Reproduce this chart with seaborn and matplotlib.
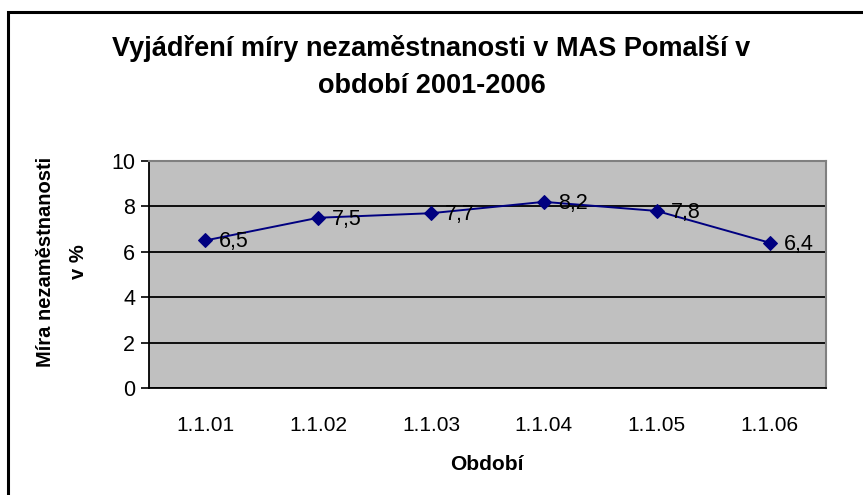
import matplotlib
matplotlib.use("Agg")
import matplotlib.pyplot as plt
import seaborn as sns
import pandas as pd
from matplotlib.patches import Rectangle

categories = ["1.1.01", "1.1.02", "1.1.03", "1.1.04", "1.1.05", "1.1.06"]
values = [6.5, 7.5, 7.7, 8.2, 7.8, 6.4]
value_labels = ["6,5", "7,5", "7,7", "8,2", "7,8", "6,4"]
y_ticks = [0, 2, 4, 6, 8, 10]

sns.set_style("white")
plt.rcParams['font.family'] = ['Liberation Sans', 'DejaVu Sans']
plt.rcParams['text.color'] = 'black'
plt.rcParams['axes.labelcolor'] = 'black'
plt.rcParams['xtick.color'] = 'black'
plt.rcParams['ytick.color'] = 'black'

df = pd.DataFrame({"Období": categories, "value": values})

fig = plt.figure(figsize=(8.63, 4.95), dpi=100)
W, H = 863, 495
ax = fig.add_axes([149 / W, 1 - 388 / H, 677 / W, 227 / H])
ax.set_facecolor("#C0C0C0")

# outer chart frame
fig.patches.append(Rectangle((8 / W, -0.1), 1.2, 1 - 12 / H + 0.1, transform=fig.transFigure,
                             fill=False, edgecolor="black", linewidth=2.2, zorder=0))

sns.lineplot(data=df, x="Období", y="value", sort=False, ax=ax, color="#000080",
             linewidth=1.4, marker="D", markersize=7, markeredgecolor="#000080", zorder=5)

for i, (v, lab) in enumerate(zip(values, value_labels)):
    ax.annotate(lab, (i, v), xytext=(10, -1), textcoords="offset points",
                ha="left", va="center", fontsize=15.5, color="black", zorder=6)

ax.set_xlim(-0.5, len(categories) - 0.5)
ax.set_ylim(0, 10)
ax.set_yticks(y_ticks)
ax.set_yticklabels([str(t) for t in y_ticks])
ax.grid(axis="y", color="black", linewidth=1.3)
ax.set_axisbelow(True)

ax.set_xticks(range(len(categories)))
ax.set_xticklabels(categories)
ax.set_xticks([i - 0.5 for i in range(len(categories) + 1)], minor=True)
ax.tick_params(axis="x", which="major", length=0, pad=20, labelsize=15)
ax.tick_params(axis="x", which="minor", length=6, width=1.2, color="black", direction="out")
ax.tick_params(axis="y", which="major", length=6, width=1.2, color="black", direction="out",
               labelsize=15.5, pad=4, left=True)

for s in ["left", "bottom"]:
    ax.spines[s].set_color("black")
    ax.spines[s].set_linewidth(1.3)
for s in ["top", "right"]:
    ax.spines[s].set_color("#808080")
    ax.spines[s].set_linewidth(1.5)

ax.set_xlabel("Období", fontsize=15, fontweight="bold")
ax.xaxis.set_label_coords((487 - 149) / 677, (388 - 455) / 227)
ax.set_ylabel("Míra nezaměstnanosti\nv %", fontsize=14.5, fontweight="bold",
              linespacing=1.9, va="center")
ax.yaxis.set_label_coords((62 - 149) / 677, (388 - 262) / 227)

fig.text(0.5, 1 - 67 / H, "Vyjádření míry nezaměstnanosti v MAS Pomalší v\nobdobí 2001-2006",
         ha="center", va="center", fontsize=19.5, fontweight="bold", linespacing=1.55)

fig.savefig("out.png", dpi=100)
